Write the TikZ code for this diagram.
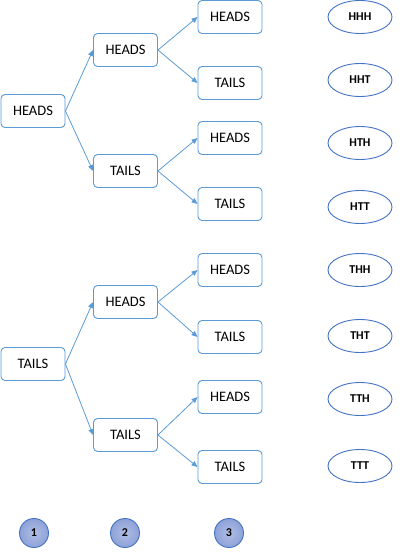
\documentclass[tikz,border=0pt]{standalone}
\usepackage{fontspec}
\setmainfont{Carlito}
\usetikzlibrary{shapes.geometric,arrows.meta}
\definecolor{bl}{HTML}{5B9BD5}
\definecolor{ebl}{HTML}{4472C4}
\definecolor{cfill}{HTML}{8EA2D8}
\begin{document}
\begin{tikzpicture}[x=1pt,y=-1pt,
  box/.style={draw=bl,line width=0.9pt,rounded corners=4pt,fill=white,minimum width=64pt,minimum height=33pt,inner sep=0pt,font=\fontsize{14.5}{17}\selectfont},
  res/.style={draw=ebl,line width=0.9pt,ellipse,minimum width=64pt,minimum height=33pt,inner sep=0pt,font=\fontsize{12}{14}\selectfont\bfseries},
  num/.style={draw=ebl,line width=0.9pt,circle,minimum size=29pt,inner sep=0pt,inner color=cfill!70,outer color=cfill,font=\fontsize{12}{14}\selectfont\bfseries},
  arr/.style={draw=bl,line width=0.8pt,-{Triangle[length=6pt,width=5pt]}}]
\useasboundingbox (0,0) rectangle (408,559);
% top half
\node[box] (a) at (33,111) {HEADS};
\node[box] (aH) at (125.5,50) {HEADS};
\node[box] (aT) at (125.5,171) {TAILS};
\node[box] (aHH) at (230,17) {HEADS};
\node[box] (aHT) at (230,83) {TAILS};
\node[box] (aTH) at (230,138) {HEADS};
\node[box] (aTT) at (230,204) {TAILS};
% bottom half
\node[box] (b) at (33,364) {TAILS};
\node[box] (bH) at (125.5,302) {HEADS};
\node[box] (bT) at (125.5,435) {TAILS};
\node[box] (bHH) at (230,270) {HEADS};
\node[box] (bHT) at (230,337) {TAILS};
\node[box] (bTH) at (230,397) {HEADS};
\node[box] (bTT) at (230,467) {TAILS};
% arrows
\foreach \p/\c in {a/aH,a/aT,aH/aHH,aH/aHT,aT/aTH,aT/aTT,b/bH,b/bT,bH/bHH,bH/bHT,bT/bTH,bT/bTT}
  \draw[arr] (\p.east) -- (\c.west);
% results
\node[res] (r1) at (360,17) {HHH};
\node[res] (r2) at (360,80) {HHT};
\node[res] (r3) at (360,143) {HTH};
\node[res] (r4) at (360,207) {HTT};
\node[res] (r5) at (360,270) {THH};
\node[res] (r6) at (360,336) {THT};
\node[res] (r7) at (360,399) {TTH};
\node[res] (r8) at (360,466) {TTT};
% numbers
\node[num] (n1) at (34,533) {1};
\node[num] (n2) at (125,533) {2};
\node[num] (n3) at (229,533) {3};
\end{tikzpicture}
\end{document}
